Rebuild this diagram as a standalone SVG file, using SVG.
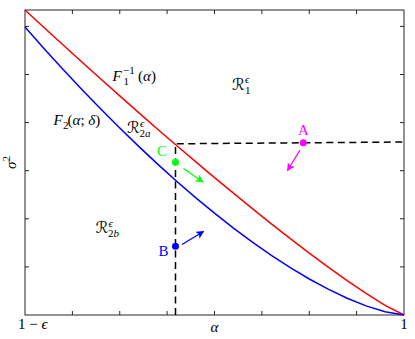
<svg xmlns="http://www.w3.org/2000/svg" width="415" height="339" viewBox="0 0 415 339" font-family="'Liberation Serif', 'Times New Roman', serif">
<style>
text{font-family:'Liberation Serif','Times New Roman',serif}
.t{font-size:15px;fill:#000}
.i{font-style:italic}
.sm{font-size:11px}
.cal{font-family:'DejaVu Serif','DejaVu Sans',serif;font-size:16px;font-style:italic}
.ax{fill:none;stroke:#262626;stroke-width:1}
.dash{fill:none;stroke:#000;stroke-width:1.5;stroke-dasharray:7 4.5}
.cv{fill:none;stroke-width:1.5}
</style>
<defs>
<marker id="hm" viewBox="0 0 10 10" refX="9" refY="5" markerWidth="8" markerHeight="8" markerUnits="userSpaceOnUse" orient="auto"><path d="M0,0 L10,5 L0,10 L2.5,5 z" fill="#ff00ff"/></marker>
<marker id="hg" viewBox="0 0 10 10" refX="9" refY="5" markerWidth="8" markerHeight="8" markerUnits="userSpaceOnUse" orient="auto"><path d="M0,0 L10,5 L0,10 L2.5,5 z" fill="#00ff00"/></marker>
<marker id="hb" viewBox="0 0 10 10" refX="9" refY="5" markerWidth="8" markerHeight="8" markerUnits="userSpaceOnUse" orient="auto"><path d="M0,0 L10,5 L0,10 L2.5,5 z" fill="#0000ff"/></marker>
</defs>
<rect width="415" height="339" fill="#fff"/>
<g id="axes">
<rect class="ax" x="25" y="10" width="379" height="305"/>
<path class="ax" d="M72.4,315V311M119.75,315V311M167.1,315V311M214.5,315V311M261.9,315V311M309.25,315V311M356.6,315V311M72.4,10V14M119.75,10V14M167.1,10V14M214.5,10V14M261.9,10V14M309.25,10V14M356.6,10V14M25,266.9H29M25,218.8H29M25,170.7H29M25,122.6H29M25,74.5H29M25,26.4H29M404,266.9H400M404,218.8H400M404,170.7H400M404,122.6H400M404,74.5H400M404,26.4H400"/>
<text class="t" x="18" y="329">1 − <tspan class="i">ϵ</tspan></text>
<text class="t i" x="214.5" y="332" text-anchor="middle">α</text>
<text class="t" x="404" y="329" text-anchor="middle">1</text>
<text class="t" transform="translate(16,169) rotate(-90)"><tspan class="i">σ</tspan><tspan class="sm" dy="-6">2</tspan></text>
</g>
<g id="curve-F1">
<polyline class="cv" stroke="#ff0000" points="25,10 43.95,27.5 62.9,44.8 81.85,62.0 100.8,79.0 119.75,95.9 138.7,112.6 157.65,129.2 176.6,145.5 195.55,161.6 214.5,177.6 233.45,193.2 252.4,208.7 271.35,223.8 290.3,238.6 309.25,253.1 328.2,267.1 347.15,280.6 366.1,293.4 385.05,305.3 404,315"/>
<text class="t i" x="112.5" y="81">F</text>
<text class="t sm" x="123.5" y="85">1</text>
<text class="t sm" x="123" y="74">−1</text>
<text class="t" x="138" y="81">(<tspan class="i">α</tspan>)</text>
</g>
<g id="curve-F2">
<polyline class="cv" stroke="#0000ff" points="25,27.1 43.95,48.4 62.9,69.2 81.85,89.4 100.8,109.0 119.75,128.0 138.7,146.4 157.65,164.1 176.6,181.2 195.55,197.6 214.5,213.2 233.45,228.1 252.4,242.2 271.35,255.4 290.3,267.7 309.25,279.0 328.2,289.2 347.15,298.3 366.1,305.9 385.05,311.8 404,315"/>
<text class="t i" x="53.5" y="125">F</text>
<text class="t sm" x="63" y="129">2</text>
<text class="t" x="67.5" y="125">(<tspan class="i">α</tspan>; <tspan class="i">δ</tspan>)</text>
</g>
<g id="dashed">
<path class="dash" d="M175.5,315V143.8L404,142"/>
</g>
<g id="region-R1">
<text class="t cal" x="232" y="90">ℛ</text>
<text class="t sm i" x="245" y="83">ϵ</text>
<text class="t sm" x="245" y="93.5">1</text>
</g>
<g id="region-R2a">
<text class="t cal" x="127" y="133">ℛ</text>
<text class="t sm i" x="140" y="126.5">ϵ</text>
<text class="t sm" x="139.5" y="137">2<tspan class="i">a</tspan></text>
</g>
<g id="region-R2b">
<text class="t cal" x="95.5" y="233">ℛ</text>
<text class="t sm i" x="108.5" y="226.5">ϵ</text>
<text class="t sm" x="108" y="237">2<tspan class="i">b</tspan></text>
</g>
<g id="point-A">
<circle cx="303.3" cy="142.7" r="3.5" fill="#ff00ff"/>
<text class="t" x="303.5" y="135" text-anchor="middle" style="fill:#ff00ff">A</text>
</g>
<g id="point-C">
<circle cx="175.5" cy="162.3" r="3.5" fill="#00ff00"/>
<text class="t" x="162" y="156" text-anchor="middle" style="fill:#00ff00">C</text>
</g>
<g id="point-B">
<circle cx="175.5" cy="246.3" r="3.5" fill="#0000ff"/>
<text class="t" x="163.5" y="256" text-anchor="middle" style="fill:#0000ff">B</text>
</g>
<g id="connectors">
<line x1="300" y1="150" x2="287.5" y2="170.5" stroke="#ff00ff" stroke-width="1.3" marker-end="url(#hm)"/>
<line x1="183.5" y1="168.5" x2="203" y2="182" stroke="#00ff00" stroke-width="1.3" marker-end="url(#hg)"/>
<line x1="182" y1="244.5" x2="203.5" y2="231.5" stroke="#0000ff" stroke-width="1.3" marker-end="url(#hb)"/>
</g>
</svg>
